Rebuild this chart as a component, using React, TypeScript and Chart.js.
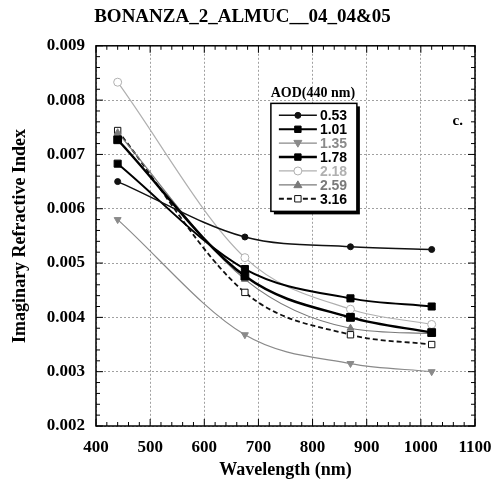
import React, { useEffect, useRef } from "react";
import { Chart, registerables } from "chart.js";

Chart.register(...registerables);

const wavelengths = [440, 675, 870, 1020];
const aodLabels = ["0.53", "1.01", "1.35", "1.78", "2.18", "2.59", "3.16"];
const s053 = [0.0065, 0.00548, 0.0053, 0.00525];
const s101 = [0.00683, 0.00489, 0.00435, 0.0042];
const s135 = [0.0058, 0.00368, 0.00315, 0.003];
const s178 = [0.00727, 0.00476, 0.004, 0.00372];
const s218 = [0.00833, 0.0051, 0.00415, 0.00387];
const s259 = [0.0074, 0.0047, 0.0038, 0.0037];
const s316 = [0.00744, 0.00446, 0.00368, 0.0035];
const seriesValues = [s053, s101, s135, s178, s218, s259, s316];

const xTicks = [400, 500, 600, 700, 800, 900, 1000, 1100];
const yTicks = [0.002, 0.003, 0.004, 0.005, 0.006, 0.007, 0.008, 0.009];

const SERIF = "'Liberation Serif', 'Times New Roman', serif";
const SANS = "'Liberation Sans', Arial, sans-serif";

const styles = [
  { color: "#111", width: 1.5, dash: [], point: "circle", radius: 3, fill: "#111", rot: 0 },
  { color: "#000", width: 2, dash: [], point: "rect", radius: 5, fill: "#000", rot: 0 },
  { color: "#8a8a8a", width: 1.2, dash: [], point: "triangle", radius: 4, fill: "#8a8a8a", rot: 180 },
  { color: "#000", width: 2.5, dash: [], point: "rect", radius: 5.5, fill: "#000", rot: 0 },
  { color: "#b0b0b0", width: 1.2, dash: [], point: "circle", radius: 4, fill: "#fff", rot: 0 },
  { color: "#7a7a7a", width: 1.2, dash: [], point: "triangle", radius: 4, fill: "#7a7a7a", rot: 0 },
  { color: "#111", width: 1.8, dash: [5, 3], point: "rect", radius: 4.5, fill: "#fff", rot: 0 },
];

function drawMarker(ctx: CanvasRenderingContext2D, st: any, x: number, y: number) {
  const r = st.radius;
  ctx.save();
  ctx.setLineDash([]);
  ctx.fillStyle = st.fill;
  ctx.strokeStyle = st.color;
  ctx.lineWidth = 1;
  ctx.beginPath();
  if (st.point === "circle") {
    ctx.arc(x, y, r, 0, Math.PI * 2);
  } else if (st.point === "rect") {
    ctx.rect(x - r * 0.8, y - r * 0.8, r * 1.6, r * 1.6);
  } else {
    const s = st.rot === 180 ? -1 : 1;
    ctx.moveTo(x, y - s * r);
    ctx.lineTo(x + r, y + s * r * 0.7);
    ctx.lineTo(x - r, y + s * r * 0.7);
    ctx.closePath();
  }
  ctx.fill();
  ctx.stroke();
  ctx.restore();
}

const framePlugin = {
  id: "frameAndLegend",
  afterDraw(chart: any) {
    const { ctx, chartArea: a, scales } = chart;
    const xs = scales.x;
    const ys = scales.y;
    ctx.save();
    ctx.strokeStyle = "#000";
    ctx.lineWidth = 1.5;
    ctx.setLineDash([]);
    ctx.strokeRect(a.left, a.top, a.right - a.left, a.bottom - a.top);
    ctx.lineWidth = 1;
    for (let v = 400; v <= 1100; v += 20) {
      const px = xs.getPixelForValue(v);
      const len = v % 100 === 0 ? 7 : 4;
      ctx.beginPath();
      ctx.moveTo(px, a.bottom);
      ctx.lineTo(px, a.bottom - len);
      ctx.moveTo(px, a.top);
      ctx.lineTo(px, a.top + len);
      ctx.stroke();
    }
    for (let i = 0; i <= 35; i++) {
      const v = 0.002 + i * 0.0002;
      const py = ys.getPixelForValue(v);
      const len = i % 5 === 0 ? 7 : 4;
      ctx.beginPath();
      ctx.moveTo(a.left, py);
      ctx.lineTo(a.left + len, py);
      ctx.moveTo(a.right, py);
      ctx.lineTo(a.right - len, py);
      ctx.stroke();
    }
    // legend
    const bx = xs.getPixelForValue(723);
    const by = ys.getPixelForValue(0.00794);
    const bw = 86;
    const bh = 108;
    ctx.fillStyle = "#000";
    ctx.fillRect(bx + 3, by + 3, bw, bh);
    ctx.fillStyle = "#fff";
    ctx.fillRect(bx, by, bw, bh);
    ctx.strokeStyle = "#000";
    ctx.lineWidth = 1.5;
    ctx.strokeRect(bx, by, bw, bh);
    ctx.font = "bold 14px " + SERIF;
    ctx.fillStyle = "#000";
    ctx.textAlign = "center";
    ctx.textBaseline = "middle";
    ctx.fillText("AOD(440 nm)", bx + 42, by - 10);
    ctx.font = "bold 14px " + SANS;
    ctx.textAlign = "left";
    chart.data.datasets.forEach((ds: any, i: number) => {
      const st = styles[i];
      const ry = by + 12 + i * 13.9;
      ctx.save();
      ctx.strokeStyle = st.color;
      ctx.lineWidth = st.width;
      ctx.setLineDash(st.dash);
      ctx.beginPath();
      ctx.moveTo(bx + 8, ry);
      ctx.lineTo(bx + 46, ry);
      ctx.stroke();
      ctx.restore();
      drawMarker(ctx, { ...st, radius: Math.min(st.radius, 4) }, bx + 27, ry);
      ctx.fillStyle = i === 2 || i === 4 || i === 5 ? st.color : "#000";
      ctx.fillText(aodLabels[i], bx + 49, ry + 1);
    });
    ctx.fillStyle = "#000";
    ctx.font = "bold 15px " + SERIF;
    ctx.textAlign = "center";
    ctx.fillText("c.", xs.getPixelForValue(1068), ys.getPixelForValue(0.00762));
    ctx.restore();
  },
};

export default function App() {
  const ref = useRef<HTMLCanvasElement>(null);
  useEffect(() => {
    if (!ref.current) return;
    const datasets = seriesValues.map((vals, i) => {
      const st = styles[i];
      return {
        label: aodLabels[i],
        data: wavelengths.map((w, j) => ({ x: w, y: vals[j] })),
        borderColor: st.color,
        borderWidth: st.width,
        borderDash: st.dash,
        backgroundColor: st.fill,
        pointStyle: st.point,
        pointRadius: st.radius,
        pointRotation: st.rot,
        pointBorderColor: st.color,
        pointBorderWidth: 1,
        pointBackgroundColor: st.fill,
        showLine: true,
        tension: 0.4,
        cubicInterpolationMode: "monotone",
        fill: false,
      };
    });
    const chart = new Chart(ref.current, {
      type: "scatter",
      data: { datasets: datasets as any },
      options: {
        animation: false,
        responsive: false,
        layout: { padding: { left: 10, right: 20, top: 0, bottom: 0 } },
        plugins: {
          legend: { display: false },
          tooltip: { enabled: false },
          title: {
            display: true,
            text: "BONANZA_2_ALMUC__04_04&05",
            color: "#000",
            font: { family: SERIF, size: 19, weight: "bold" },
            padding: { top: 6, bottom: 17 },
          },
        },
        scales: {
          x: {
            type: "linear",
            min: 400,
            max: 1100,
            afterBuildTicks: (s: any) => {
              s.ticks = xTicks.map((v) => ({ value: v }));
            },
            afterFit: (s: any) => {
              s.height = 55;
              s.paddingLeft = 0;
              s.paddingRight = 0;
            },
            ticks: {
              color: "#000",
              font: { family: SERIF, size: 17, weight: "bold" },
              padding: 11,
              maxRotation: 0,
              callback: (v: any) => String(v),
            },
            grid: { color: "#a0a0a0", lineWidth: 1, drawTicks: false },
            border: { display: false, dash: [2, 2] },
            title: {
              display: true,
              text: "Wavelength (nm)",
              color: "#000",
              font: { family: SERIF, size: 18, weight: "bold" },
              padding: { top: 0, bottom: 0 },
            },
          },
          y: {
            type: "linear",
            min: 0.002,
            max: 0.009,
            afterBuildTicks: (s: any) => {
              s.ticks = yTicks.map((v) => ({ value: v }));
            },
            afterFit: (s: any) => {
              s.width = 86;
              s.paddingTop = 0;
              s.paddingBottom = 0;
            },
            ticks: {
              color: "#000",
              font: { family: SERIF, size: 17, weight: "bold" },
              padding: 11,
              callback: (v: any) => Number(v).toFixed(3),
            },
            grid: { color: "#a0a0a0", lineWidth: 1, drawTicks: false },
            border: { display: false, dash: [2, 2] },
            title: {
              display: true,
              text: "Imaginary Refractive Index",
              color: "#000",
              font: { family: SERIF, size: 18, weight: "bold" },
              padding: { top: 0, bottom: 6 },
            },
          },
        },
      },
      plugins: [framePlugin],
    });
    return () => chart.destroy();
  }, []);
  return (
    <div style={{ position: "absolute", left: 0, top: 0, width: 495, height: 481, background: "#fff" }}>
      <canvas ref={ref} width={495} height={481} style={{ display: "block" }} />
    </div>
  );
}
